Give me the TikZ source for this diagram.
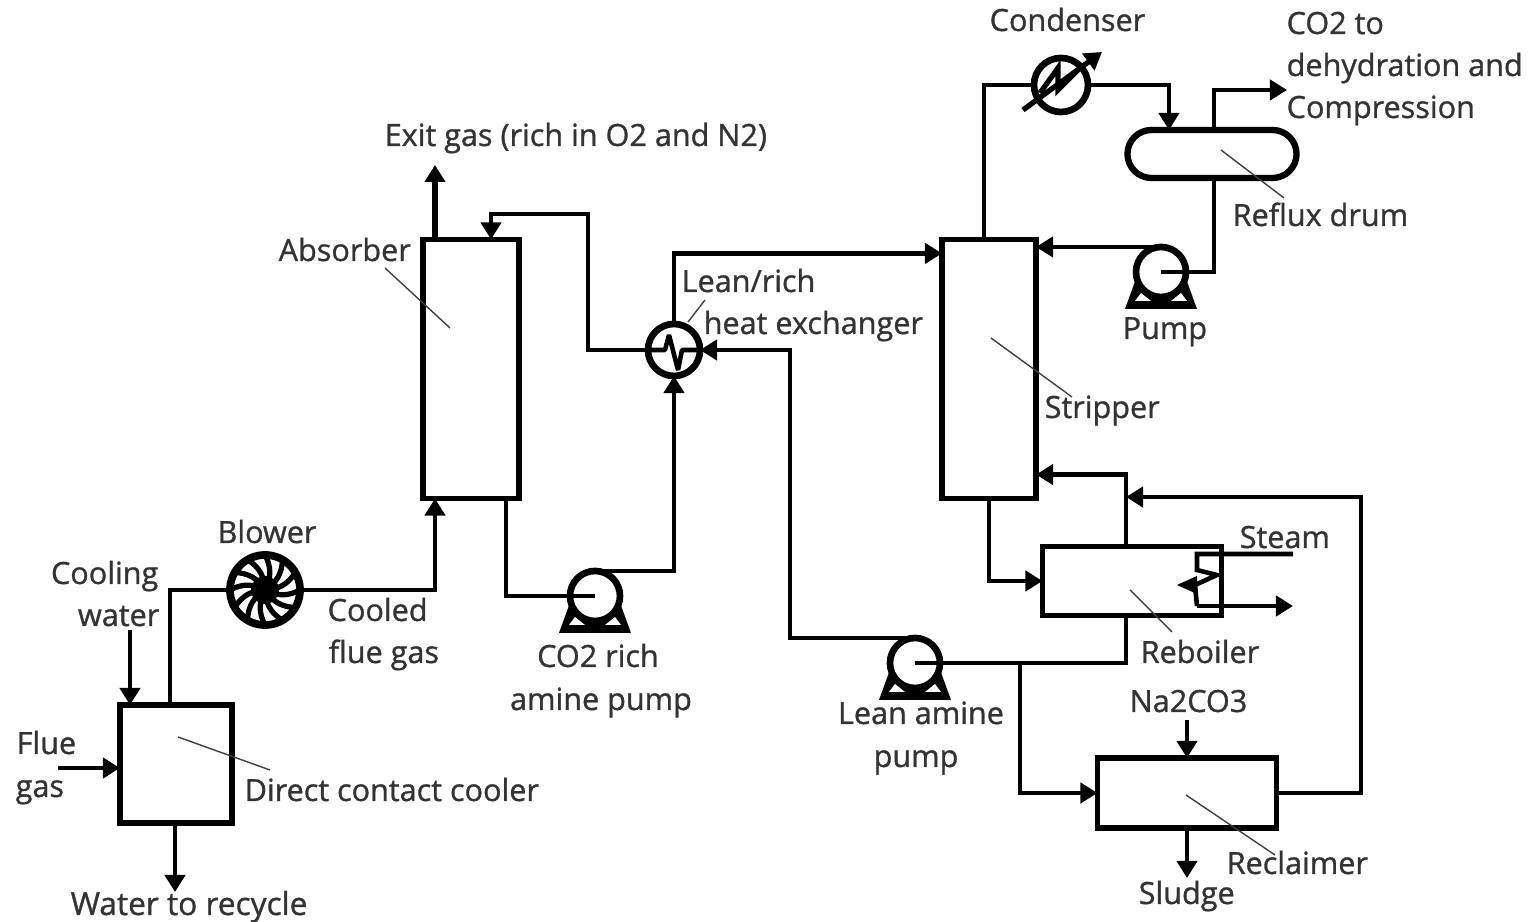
\documentclass[tikz,border=0pt]{standalone}
\usepackage{fontspec}
\setmainfont[FakeBold=1]{Open Sans}
\usetikzlibrary{arrows.meta,shapes.misc}
\tikzset{
  vessel/.style={draw, fill=white, line width=1.6pt, rectangle, inner sep=0pt, outer sep=0pt},
  drumbody/.style={draw, fill=white, line width=1.8pt, rounded rectangle, inner sep=0pt, outer sep=0pt, minimum width=1.69cm, minimum height=0.48cm},
  roundbody/.style={draw, fill=white, line width=1.9pt, circle, inner sep=0pt, outer sep=0pt, minimum size=#1},
  pipe/.style={line width=1.2pt},
  flow/.style={pipe, -{Triangle[length=0.17cm,width=0.2cm]}},
  leader/.style={line width=0.4pt, black!75},
  tag/.style={inner sep=0pt, text=black!80, font=\fontsize{8.7}{11.95}\selectfont}
}
\begin{document}
\begin{tikzpicture}[x=0.01cm, y=-0.01cm]
    \useasboundingbox (0,0) rectangle (1532,922);

    % Vessels
    \node[vessel, minimum width=1.12cm, minimum height=1.18cm] (cooler) at (176,764) {};
    \node[vessel, minimum width=0.96cm, minimum height=2.59cm] (absorber) at (471,369) {};
    \node[vessel, minimum width=0.94cm, minimum height=2.59cm] (stripper) at (989,369) {};
    \node[vessel, minimum width=1.79cm, minimum height=0.69cm] (reboiler) at (1132,581) {};
    \node[vessel, minimum width=1.79cm, minimum height=0.70cm] (reclaimer) at (1187,793) {};
    \node[drumbody] (drum) at (1212,154) {};

    % Pumps
    \foreach \name/\x/\y in {richpump/595/596, leanpump/915/663, refluxpump/1161/272} {
        \fill (\x-36,\y+37) -- (\x+36,\y+37) -- (\x+24,\y+4) -- (\x-24,\y+4) -- cycle;
        \fill[white] (\x-26,\y+29) -- (\x-10,\y+29) -- (\x-20,\y+21) -- cycle;
        \fill[white] (\x+26,\y+29) -- (\x+10,\y+29) -- (\x+20,\y+21) -- cycle;
        \node[roundbody=0.5cm] (\name) at (\x,\y) {};
    }

    % Heat exchanger and condenser
    \node[roundbody=0.52cm] (hx) at (674,350) {};
    \draw[line width=1.3pt, line join=bevel] (hx.west) -- (665,350) -- (669,335) -- (678,370) -- (682,350) -- (hx.east);
    \node[roundbody=0.54cm] (condenser) at (1061,85) {};
    \draw[line width=1.5pt] (1040,93) -- (1058,68) -- (1058,90) -- (1080,68);

    % Blower
    \node[roundbody=0.7cm, line width=2.2pt] (blower) at (265,590) {};
    \foreach \a in {0,30,...,330}
        \draw[line width=1.5pt] (blower.center) to[bend right=28] (blower.\a);
    \fill (blower.center) circle (14);

    % Gas side
    \coordinate (fluein) at (58,768);
    \coordinate (waterin) at (130,630);
    \coordinate (waterout) at (175,892);
    \coordinate (exitout) at (435,165);
    \draw[flow] (fluein) -- (fluein -| cooler.west);
    \draw[flow] (waterin) -- (waterin |- cooler.north);
    \draw[flow] (cooler.south -| waterout) -- (waterout);
    \draw[pipe] ([xshift=-0.06cm]cooler.north) |- (blower.west);
    \draw[flow] (blower.east) -| ([xshift=-0.36cm]absorber.south);
    \draw[flow, line width=1.7pt] (absorber.north -| exitout) -- (exitout);

    % Rich amine
    \coordinate (leanturn) at (588,214);
    \draw[pipe] ([xshift=0.35cm]absorber.south) |- (richpump.center);
    \draw[flow] (richpump.north) -| (hx.south);
    \draw[flow] (hx.west) -| (leanturn) -| ([xshift=0.2cm]absorber.north);
    \draw[flow] (hx.north) |- ([yshift=-0.14cm]stripper.north west);

    % Lean amine
    \coordinate (hxturn) at (790,350);
    \coordinate (leanbranch) at (1020,663);
    \coordinate (rebottom) at ([xshift=-0.06cm]reboiler.south);
    \coordinate (retop) at ([xshift=-0.06cm]reboiler.north);
    \coordinate (returnturn) at (1361,497);
    \draw[flow] (leanpump.north) -| (hxturn) -- (hx.east);
    \draw[pipe] (leanpump.center) -| (rebottom);
    \draw[flow] (leanbranch) |- (reclaimer.west);
    \draw[flow] (reclaimer.east) -| (returnturn) -- (returnturn -| retop);
    \draw[flow] (retop) |- ([yshift=0.24cm]stripper.south east);
    \draw[flow] (stripper.south) |- (reboiler.west);

    % Overhead
    \coordinate (co2out) at (1287,90);
    \draw[pipe] ([xshift=-0.05cm]stripper.north) |- (condenser.west);
    \draw[flow] (condenser.east) -| ([xshift=-0.43cm]drum.north);
    \draw[flow] ([xshift=0.02cm]drum.north) |- (co2out);
    \draw[pipe] ([xshift=0.02cm]drum.south) |- (refluxpump.center);
    \draw[flow] (refluxpump.north) -- (refluxpump.north -| stripper.east);
    \coordinate (coolin) at (1023,110);
    \coordinate (coolout) at (1102,52);
    \draw[flow, line width=1.5pt] (coolin) -- (coolout);

    % Steam coil
    \coordinate (steamin) at (1293,554);
    \coordinate (steamout) at (1293,606);
    \draw[line width=1.3pt] (steamin) -- (1197,554) -- (1197,570) -- (1217,575) -- (1195,585) -- (1197,606);
    \draw[flow] (1197,606) -- (steamout);
    \fill (1177,585) -- (1197,576) -- (1197,594) -- cycle;

    % Na2CO3 and sludge
    \coordinate (sodain) at (1187,720);
    \coordinate (sludgeout) at (1187,878);
    \draw[flow] (sodain) -- (sodain |- reclaimer.north);
    \draw[flow] (reclaimer.south) -- (sludgeout);

    % Leaders
    \foreach \name/\xa/\ya/\xb/\yb in {absorberline/385/268/450/328, coolerline/178/737/270/770,
        hxline/705/300/688/322, stripperline/991/338/1072/397, drumline/1221/150/1284/198,
        reboilerline/1130/590/1172/632, reclaimerline/1186/795/1275/855} {
        \coordinate (\name a) at (\xa,\ya);
        \coordinate (\name b) at (\xb,\yb);
        \draw[leader] (\name a) -- (\name b);
    }

    % Labels
    \node[tag, anchor=base west] (exitlabel) at (384,146) {Exit gas (rich in O2 and N2)};
    \node[tag, anchor=base west] (absorberlabel) at (278,261) {Absorber};
    \node[tag, anchor=base west] (hxlabela) at (681,292) {Lean/rich};
    \node[tag, anchor=base west] (hxlabelb) at (703,334) {heat exchanger};
    \node[tag, anchor=base west] (condenserlabel) at (989,31) {Condenser};
    \node[tag, anchor=base west] (co2label) at (1286,34) {CO2 to};
    \node[tag, anchor=base west] (co2labelb) at (1286,76) {dehydration and};
    \node[tag, anchor=base west] (co2labelc) at (1286,118) {Compression};
    \node[tag, anchor=base west] (drumlabel) at (1232,226) {Reflux drum};
    \node[tag, anchor=base west] (pumplabel) at (1122,339) {Pump};
    \node[tag, anchor=base west] (stripperlabel) at (1044,418) {Stripper};
    \node[tag, anchor=base west] (steamlabel) at (1239,548) {Steam};
    \node[tag, anchor=base west] (reboilerlabel) at (1140,663) {Reboiler};
    \node[tag, anchor=base west] (sodalabel) at (1129,712) {Na2CO3};
    \node[tag, anchor=base] (leanlabel) at (921,724) {Lean amine};
    \node[tag, anchor=base] (leanlabelb) at (916,767) {pump};
    \node[tag, anchor=base west] (reclaimerlabel) at (1226,874) {Reclaimer};
    \node[tag, anchor=base west] (sludgelabel) at (1138,904) {Sludge};
    \node[tag, anchor=base] (blowerlabel) at (267,543) {Blower};
    \node[tag, anchor=base east] (coolinglabel) at (159,584) {Cooling};
    \node[tag, anchor=base east] (coolinglabelb) at (160,626) {water};
    \node[tag, anchor=base west] (cooledlabel) at (327,621) {Cooled};
    \node[tag, anchor=base west] (cooledlabelb) at (328,663) {flue gas};
    \node[tag, anchor=base] (richlabel) at (598,667) {CO2 rich};
    \node[tag, anchor=base] (richlabelb) at (601,710) {amine pump};
    \node[tag, anchor=base west] (fluelabel) at (16,754) {Flue};
    \node[tag, anchor=base west] (fluelabelb) at (15,797) {gas};
    \node[tag, anchor=base west] (coolerlabel) at (244,801) {Direct contact cooler};
    \node[tag, anchor=base west, font=\fontsize{9}{11.95}\selectfont] (waterlabel) at (70,915) {Water to recycle};

\end{tikzpicture}
\end{document}
